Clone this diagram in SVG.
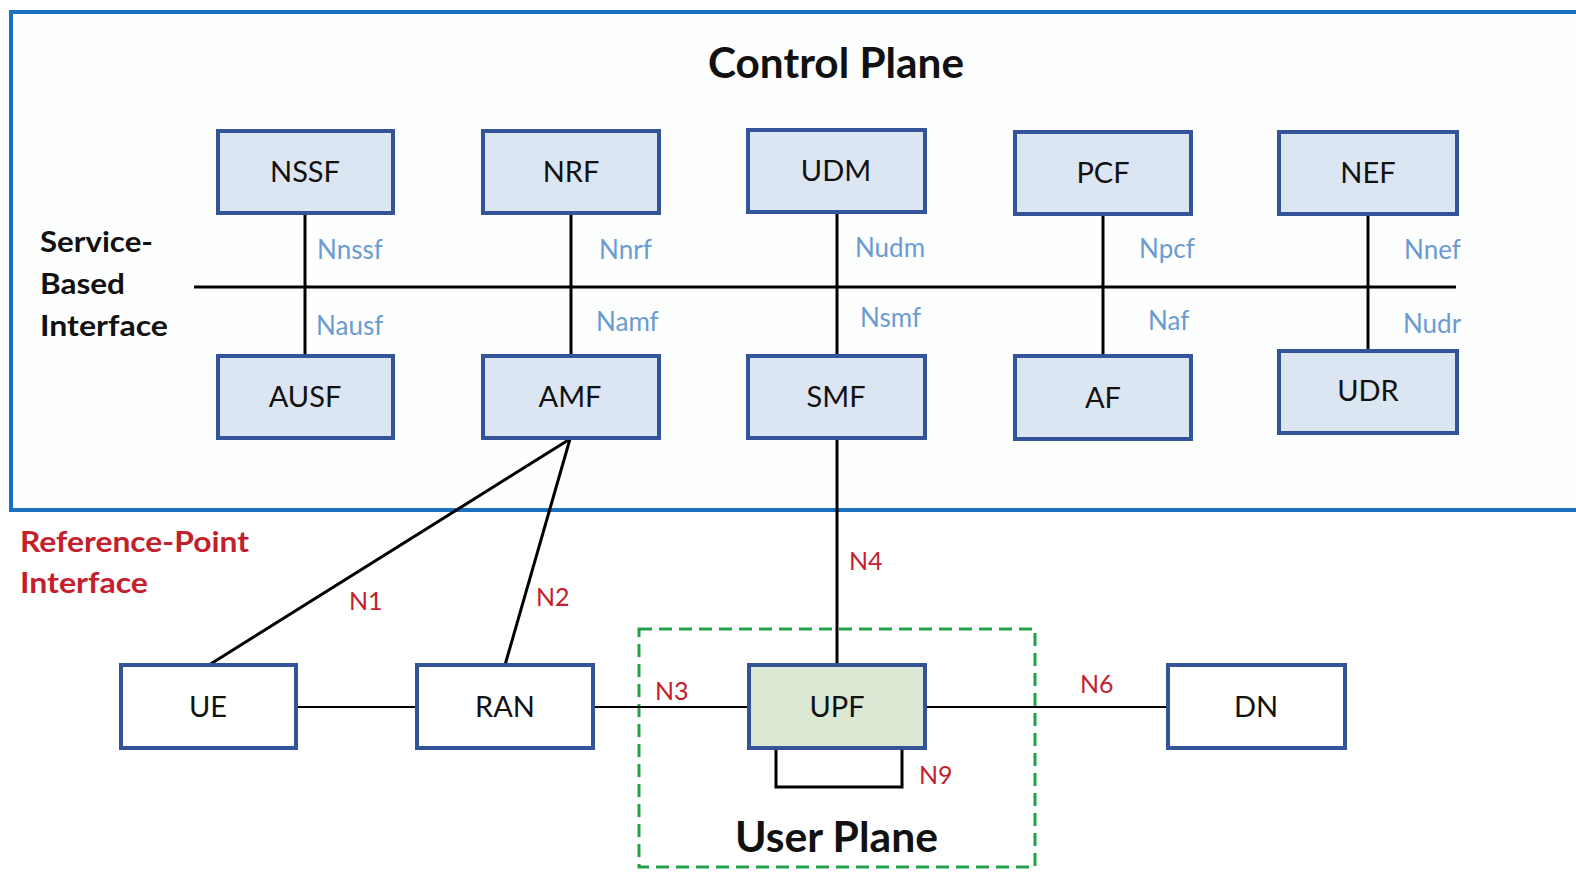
<svg xmlns="http://www.w3.org/2000/svg" width="1576" height="873" viewBox="0 0 1576 873">
  <style>
    .nf { fill: #dce6f2; stroke: #34549a; stroke-width: 4; }
    .nw { fill: #ffffff; stroke: #34549a; stroke-width: 4; }
    .ng { fill: #dbe8d4; stroke: #34549a; stroke-width: 4; }
    .nt { font-family: Lato, "Open Sans", sans-serif; font-size: 29px; fill: #111; text-anchor: middle; }
    .sbi { font-family: Lato, "Open Sans", sans-serif; font-size: 26px; fill: #6b9bd2; }
    .rp { font-family: Lato, "Open Sans", sans-serif; font-size: 25px; fill: #c4202c; }
    .title { font-family: Lato, "Open Sans", sans-serif; font-size: 42px; font-weight: bold; fill: #111; }
    .side { font-family: Lato, "Open Sans", sans-serif; font-size: 29px; font-weight: bold; }
    .bus { stroke: #000; stroke-width: 3; fill: none; }
    .thin { stroke: #000; stroke-width: 2; fill: none; }
  </style>

  <rect width="1576" height="873" fill="#ffffff"/>

  <!-- control plane frame (open to the right) -->
  <rect id="control-plane" x="11" y="12" width="1600" height="498" fill="#fdfefe" stroke="#1b70c0" stroke-width="4"/>
  <text class="title" x="708" y="78" textLength="256" lengthAdjust="spacingAndGlyphs">Control Plane</text>
  <text class="side" x="40" y="252" fill="#111" textLength="113" lengthAdjust="spacingAndGlyphs">Service-</text>
  <text class="side" x="40" y="294" fill="#111" textLength="85" lengthAdjust="spacingAndGlyphs">Based</text>
  <text class="side" x="40" y="336" fill="#111" textLength="128" lengthAdjust="spacingAndGlyphs">Interface</text>

  <!-- user plane frame -->
  <rect id="user-plane" x="639" y="629" width="396" height="238" fill="none" stroke="#22a14a" stroke-width="3" stroke-dasharray="13,7"/>
  <text class="title" x="735" y="852" textLength="203" lengthAdjust="spacingAndGlyphs">User Plane</text>

  <text class="side" x="20" y="552" fill="#c4202c" textLength="229" lengthAdjust="spacingAndGlyphs">Reference-Point</text>
  <text class="side" x="20" y="593" fill="#c4202c" textLength="128" lengthAdjust="spacingAndGlyphs">Interface</text>

  <!-- connectors -->
  <g id="connectors">
    <line class="bus" x1="194" y1="287" x2="1456" y2="287" stroke-width="4"/>
    <line class="bus" x1="305" y1="213" x2="305" y2="356"/>
    <line class="bus" x1="571" y1="213" x2="571" y2="356"/>
    <line class="bus" x1="837" y1="213" x2="837" y2="356"/>
    <line class="bus" x1="1103" y1="213" x2="1103" y2="356"/>
    <line class="bus" x1="1368" y1="213" x2="1368" y2="351"/>
    <line class="bus" x1="837" y1="438" x2="837" y2="665"/>
    <line class="bus" x1="570" y1="439" x2="209" y2="665"/>
    <line class="bus" x1="570" y1="439" x2="505" y2="665"/>
    <line class="thin" x1="296" y1="707" x2="417" y2="707"/>
    <line class="thin" x1="593" y1="707" x2="749" y2="707"/>
    <line class="thin" x1="925" y1="707" x2="1168" y2="707"/>
    <polyline class="bus" points="776,749 776,787 902,787 902,749"/>

    <text class="sbi" x="317" y="259">Nnssf</text>
    <text class="sbi" x="316" y="335">Nausf</text>
    <text class="sbi" x="599" y="259">Nnrf</text>
    <text class="sbi" x="596" y="331">Namf</text>
    <text class="sbi" x="855" y="257">Nudm</text>
    <text class="sbi" x="860" y="327">Nsmf</text>
    <text class="sbi" x="1139" y="258">Npcf</text>
    <text class="sbi" x="1148" y="330">Naf</text>
    <text class="sbi" x="1404" y="259">Nnef</text>
    <text class="sbi" x="1403" y="333">Nudr</text>

    <text class="rp" x="349" y="610">N1</text>
    <text class="rp" x="536" y="606">N2</text>
    <text class="rp" x="655" y="700">N3</text>
    <text class="rp" x="849" y="570">N4</text>
    <text class="rp" x="1080" y="693">N6</text>
    <text class="rp" x="919" y="784">N9</text>
  </g>

  <!-- network functions -->
  <g id="nssf"><rect class="nf" x="218" y="131" width="175" height="82"/><text class="nt" x="305" y="182">NSSF</text></g>
  <g id="nrf"><rect class="nf" x="483" y="131" width="176" height="82"/><text class="nt" x="571" y="182">NRF</text></g>
  <g id="udm"><rect class="nf" x="748" y="130" width="177" height="82"/><text class="nt" x="836" y="181">UDM</text></g>
  <g id="pcf"><rect class="nf" x="1015" y="132" width="176" height="82"/><text class="nt" x="1103" y="183">PCF</text></g>
  <g id="nef"><rect class="nf" x="1279" y="132" width="178" height="82"/><text class="nt" x="1368" y="183">NEF</text></g>

  <g id="ausf"><rect class="nf" x="218" y="356" width="175" height="82"/><text class="nt" x="305" y="407">AUSF</text></g>
  <g id="amf"><rect class="nf" x="483" y="356" width="176" height="82"/><text class="nt" x="570" y="407">AMF</text></g>
  <g id="smf"><rect class="nf" x="748" y="356" width="177" height="82"/><text class="nt" x="836" y="407">SMF</text></g>
  <g id="af"><rect class="nf" x="1015" y="356" width="176" height="83"/><text class="nt" x="1103" y="408">AF</text></g>
  <g id="udr"><rect class="nf" x="1279" y="351" width="178" height="82"/><text class="nt" x="1368" y="401">UDR</text></g>

  <g id="ue"><rect class="nw" x="121" y="665" width="175" height="83"/><text class="nt" x="208" y="717">UE</text></g>
  <g id="ran"><rect class="nw" x="417" y="665" width="176" height="83"/><text class="nt" x="505" y="717">RAN</text></g>
  <g id="upf"><rect class="ng" x="749" y="665" width="176" height="83"/><text class="nt" x="837" y="717">UPF</text></g>
  <g id="dn"><rect class="nw" x="1168" y="665" width="177" height="83"/><text class="nt" x="1256" y="717">DN</text></g>
</svg>
